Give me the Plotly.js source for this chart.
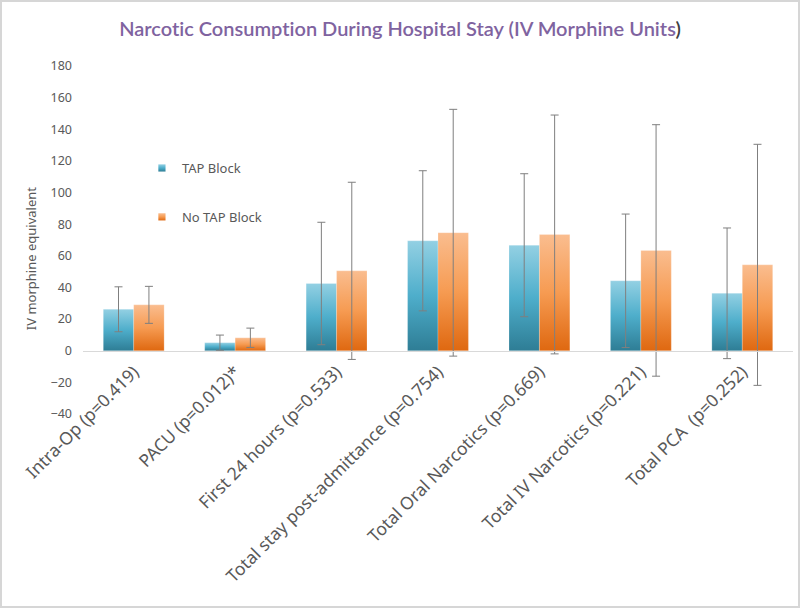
<!DOCTYPE html>
<html>
<head>
<meta charset="utf-8">
<script src="https://cdn.plot.ly/plotly-3.0.1.min.js"></script>
<style>
html,body{margin:0;padding:0;background:#fff;}
#frame{width:800px;height:608px;box-sizing:border-box;border:2px solid #d6d6d6;position:relative;overflow:hidden;}
#chart{position:absolute;left:-2px;top:-2px;width:800px;height:608px;}
svg text{font-variant-ligatures:none;font-feature-settings:"liga" 0;}
</style>
</head>
<body>
<div id="frame"><div id="chart"></div></div>
<script>
const categories = [
  "Intra-Op (p=0.419)",
  "PACU (p=0.012)*",
  "First 24 hours (p=0.533)",
  "Total stay post-admittance (p=0.754)",
  "Total Oral Narcotics (p=0.669)",
  "Total IV Narcotics (p=0.221)",
  "Total PCA  (p=0.252)"
];
const seriesNames = ["TAP Block", "No TAP Block"];
const tapMean = [26.2, 5.1, 42.5, 69.5, 66.7, 44.2, 36.3];
const tapSD   = [14.2, 4.8, 38.7, 44.3, 45.2, 42.2, 41.3];
const noTapMean = [29.0, 8.2, 50.5, 74.6, 73.5, 63.4, 54.3];
const noTapSD   = [11.7, 6.1, 56.0, 78.0, 75.5, 79.5, 76.2];
const yTicks = [-40, -20, 0, 20, 40, 60, 80, 100, 120, 140, 160, 180];

const FONT = "Noto Sans, Open Sans, sans-serif";
const GREY = "#595959";

const errStyle = {type: "data", symmetric: true, color: "#7f7f7f", thickness: 1, width: 4};

const traces = [
  {
    type: "bar", name: seriesNames[0], x: categories, y: tapMean,
    marker: {color: "#4bacc6", line: {width: 0}},
    error_y: Object.assign({array: tapSD}, errStyle),
    legendgroup: "a", hoverinfo: "none"
  },
  {
    type: "bar", name: seriesNames[1], x: categories, y: noTapMean,
    marker: {color: "#f79646", line: {width: 0}},
    error_y: Object.assign({array: noTapSD}, errStyle),
    legendgroup: "b", hoverinfo: "none"
  }
];

const layout = {
  width: 800, height: 608,
  paper_bgcolor: "rgba(0,0,0,0)", plot_bgcolor: "rgba(0,0,0,0)",
  margin: {l: 83, r: 7, t: 66, b: 194},
  font: {family: FONT, color: GREY},
  title: {
    text: "Narcotic Consumption During Hospital Stay (IV Morphine Units<span style=\"color:#404040\">)</span>",
    font: {family: "Lato, Open Sans, sans-serif", size: 20, color: "#7f63a0", weight: 600},
    x: 0.5, xanchor: "center", xref: "container",
    y: 1 - 29/608, yanchor: "middle", yref: "container"
  },
  barmode: "group", bargap: 0.4, bargroupgap: 0,
  showlegend: true,
  legend: {
    x: 0.083, y: 0.75, xanchor: "left", yanchor: "top",
    bgcolor: "rgba(0,0,0,0)", font: {size: 13, color: GREY, family: FONT},
    traceorder: "grouped", tracegroupgap: 29, itemclick: false
  },
  xaxis: {
    type: "category",
    anchor: "free", position: 40/220,
    showline: true, linecolor: "#d9d9d9", linewidth: 1,
    showgrid: false, zeroline: false, ticks: "",
    tickangle: -45, tickfont: {size: 17.5, color: GREY, family: FONT},
    ticklabelstandoff: 3
  },
  yaxis: {
    range: [-40, 180], tickvals: yTicks, showgrid: false, zeroline: false,
    showline: false, ticks: "", tickfont: {size: 12.5, color: GREY, family: FONT},
    ticklabelstandoff: 10
  },
  annotations: [
    {
      text: "IV morphine equivalent", textangle: -90,
      xref: "paper", x: -0.073, xanchor: "center",
      yref: "y", y: 58, yanchor: "middle",
      showarrow: false, font: {size: 13, color: GREY, family: FONT}
    }
  ]
};

Plotly.newPlot("chart", traces, layout, {staticPlot: true, displayModeBar: false}).then(function(gd){
  const svgNS = "http://www.w3.org/2000/svg";
  const svg = gd.querySelector(".main-svg");
  let defs = svg.querySelector("defs");
  if (!defs) { defs = document.createElementNS(svgNS, "defs"); svg.insertBefore(defs, svg.firstChild); }
  function grad(id, stops) {
    const g = document.createElementNS(svgNS, "linearGradient");
    g.setAttribute("id", id);
    g.setAttribute("x1", "0"); g.setAttribute("y1", "0");
    g.setAttribute("x2", "0"); g.setAttribute("y2", "1");
    stops.forEach(function(s){
      const st = document.createElementNS(svgNS, "stop");
      st.setAttribute("offset", s[0]);
      st.setAttribute("stop-color", s[1]);
      g.appendChild(st);
    });
    defs.appendChild(g);
  }
  grad("gTap", [["0", "#93d0e3"], ["0.5", "#4eaecb"], ["1", "#2e7d95"]]);
  grad("gNo", [["0", "#fabd8f"], ["0.5", "#f69b52"], ["1", "#df6810"]]);
  const ids = ["gTap", "gNo"];
  gd.querySelectorAll(".barlayer .trace").forEach(function(t, i){
    t.querySelectorAll(".point path").forEach(function(p){
      p.style.fill = "url(#" + ids[i] + ")";
      p.style.stroke = "rgba(255,255,255,0.35)";
      p.style.strokeWidth = "0.6px";
    });
  });
  gd.querySelectorAll(".legend .traces").forEach(function(t, i){
    t.querySelectorAll(".legendpoints path").forEach(function(p){
      p.style.fill = "url(#" + ids[i] + ")";
      p.setAttribute("transform", (p.getAttribute("transform") || "") + " scale(0.6)");
    });
  });
});
</script>
</body>
</html>
